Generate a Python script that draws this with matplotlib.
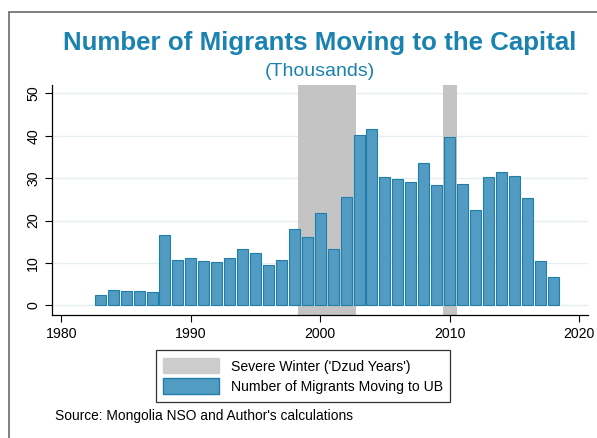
import numpy as np
import matplotlib.pyplot as plt
from matplotlib.patches import Patch, Rectangle

plt.rcParams['font.family'] = ['Liberation Sans', 'DejaVu Sans']

# migrants moving to Ulaanbaatar, thousands
years = list(range(1983, 2019))
migrants = [2.5, 3.7, 3.4, 3.4, 3.1, 16.6, 10.7, 11.2, 10.5, 10.2,
            11.2, 13.3, 12.4, 9.6, 10.6, 17.9, 16.1, 21.8, 13.3, 25.5,
            40.2, 41.7, 30.3, 29.8, 29.2, 33.5, 28.4, 39.7, 28.6, 22.6,
            30.2, 31.4, 30.4, 25.3, 10.4, 6.7]

# dzud (severe winter) periods
dzud_start = [1998.3, 2009.5]
dzud_end = [2002.8, 2010.6]

title_col = '#1a82b0'
bar_col = '#529bc2'
edge_col = '#1f7eaa'
shade_col = '#c4c4c4'

fig = plt.figure(figsize=(5.97, 4.38), dpi=100)
# outer frame (cut by the image edges)
fig.patches.append(Rectangle((9/597, -0.1), 1.2, 1 - 12/438 + 0.1,
                             transform=fig.transFigure, fill=False,
                             edgecolor='#6a6a6a', linewidth=1.2))

ax = fig.add_axes([52/597, 1 - 315/438, (588 - 52)/597, (315 - 85)/438])

for s, e in zip(dzud_start, dzud_end):
    ax.axvspan(s, e, color=shade_col, zorder=1, linewidth=0)

for v in range(0, 51, 10):
    ax.axhline(v, color='#e6efef', linewidth=1, zorder=0.5)

ax.bar(years, migrants, width=0.85, color=bar_col, edgecolor=edge_col,
       linewidth=0.8, zorder=2)

ax.set_xlim(1979.27, 2020.7)
ax.set_ylim(-2.3, 52)
ax.set_xticks([1980, 1990, 2000, 2010, 2020])
ax.set_yticks(range(0, 51, 10))
ax.tick_params(axis='both', labelsize=10.2, length=5, width=0.8, color='black')
for lab in ax.get_yticklabels():
    lab.set_rotation(90)
    lab.set_va('center')
for sp in ['top', 'right']:
    ax.spines[sp].set_visible(False)
for sp in ['left', 'bottom']:
    ax.spines[sp].set_linewidth(0.9)

fig.text(0.536, 1 - 43/438, 'Number of Migrants Moving to the Capital',
         ha='center', va='center', fontsize=18.6, fontweight='bold', color=title_col)
fig.text(0.536, 1 - 72/438, '(Thousands)', ha='center', va='center',
         fontsize=14, color=title_col)

handles = [Patch(facecolor='#cccccc', edgecolor='#cccccc'),
           Patch(facecolor=bar_col, edgecolor=edge_col)]
labels = ["Severe Winter ('Dzud Years')", 'Number of Migrants Moving to UB']
leg = fig.legend(handles, labels, loc='center', bbox_to_anchor=(303/597, 1 - 376/438),
                 fontsize=10.1, frameon=True, fancybox=False, edgecolor='black',
                 handlelength=4.0, handleheight=1.3, borderpad=0.55, labelspacing=0.35)
leg.get_frame().set_linewidth(0.9)

fig.text(55/597, 1 - 416/438, "Source: Mongolia NSO and Author's calculations",
         ha='left', va='center', fontsize=9.9)

fig.savefig('out.png', dpi=100)
